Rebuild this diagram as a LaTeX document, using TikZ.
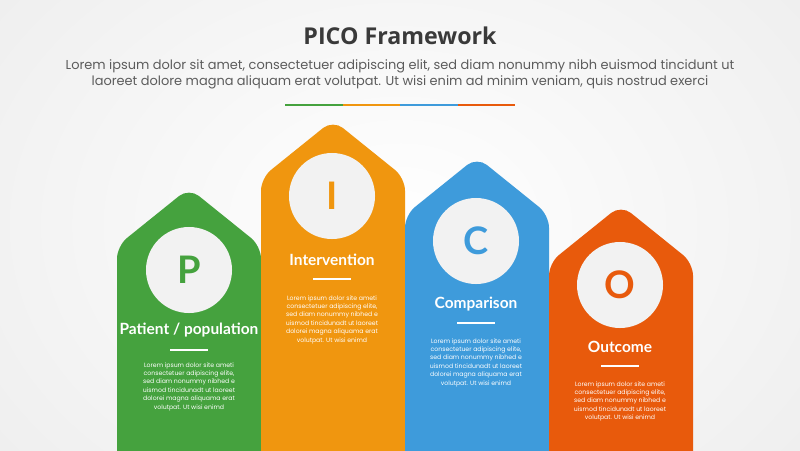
\documentclass[tikz,border=0pt]{standalone}
\usepackage{fontspec}
\setmainfont{Poppins}
\newfontfamily\headfont{Lato}
\newfontfamily\titlefont{Open Sans}

\definecolor{bgwash}{HTML}{EFEFEF}
\definecolor{titlegray}{HTML}{3A3A3A}
\definecolor{subgray}{HTML}{5C5C5C}
\definecolor{discgray}{HTML}{F2F2F2}
\definecolor{picogreen}{HTML}{45A23E}
\definecolor{picoorange}{HTML}{F0960F}
\definecolor{picoblue}{HTML}{3E9BDB}
\definecolor{picored}{HTML}{E85A0C}

\tikzset{
    column/.style={rounded corners=9pt},
    titletxt/.style={text=titlegray, inner sep=0pt, font=\titlefont\bfseries\fontsize{16.5}{18}\selectfont},
    subtxt/.style={text=subgray, align=center, inner sep=0pt, font=\fontsize{9.2}{11.4}\selectfont},
    segment/.style={line width=2pt},
    disc/.style={circle, fill=discgray, minimum size=2.15cm, inner sep=0pt, font=\headfont\bfseries\fontsize{27}{27}\selectfont},
    headtxt/.style={text=white, inner sep=0pt, font=\headfont\bfseries\fontsize{11}{12}\selectfont},
    underbar/.style={fill=white, minimum width=0.95cm, minimum height=2pt, inner sep=0pt},
    bodytxt/.style={text=white, align=center, anchor=north, inner sep=0pt, font=\fontsize{4.4}{6}\selectfont}
}

\begin{document}
\begin{tikzpicture}[x=0.025cm, y=-0.025cm]
    \useasboundingbox (0,0) rectangle (800,450);
    \shade[inner color=white, outer color=bgwash] (-100,-150) rectangle (900,600);
    \clip (0,0) rectangle (800,450);

    \node[titletxt] (title) at (400,36) {PICO Framework};
    \node[subtxt] (intro) at (400,74) {Lorem ipsum dolor sit amet, consectetuer adipiscing elit, sed diam nonummy nibh euismod tincidunt ut\\laoreet dolore magna aliquam erat volutpat. Ut wisi enim ad minim veniam, quis nostrud exerci};

    \coordinate (bar0) at (285,105);
    \coordinate (bar1) at (343,105);
    \coordinate (bar2) at (400,105);
    \coordinate (bar3) at (458,105);
    \coordinate (bar4) at (515,105);
    \draw[segment, picogreen] (bar0) -- (bar1);
    \draw[segment, picoorange] (bar1) -- (bar2);
    \draw[segment, picoblue] (bar2) -- (bar3);
    \draw[segment, picored] (bar3) -- (bar4);

    \fill[column, picogreen] (117,470) -- (117,246) -- (189,188) -- (261,246) -- (261,470) -- cycle;
    \fill[column, picoorange] (261,470) -- (261,178) -- (333,120) -- (405,178) -- (405,470) -- cycle;
    \fill[column, picoblue] (405,470) -- (405,215) -- (477,157) -- (549,215) -- (549,470) -- cycle;
    \fill[column, picored] (549,470) -- (549,263) -- (621,205) -- (693,263) -- (693,470) -- cycle;

    \node[disc, text=picogreen] (pdisc) at (189,270) {P};
    \node[headtxt] (ptitle) at (189,330) {Patient / population};
    \node[underbar] (pbar) at (189,350) {};
    \node[bodytxt] (pbody) at (189,362) {Lorem ipsum dolor site ameti\\consectetuer adipiscing elite,\\sed diam nonummy nibhed e\\uismod tincidunadt ut laoreet\\dolorei magna aliquama erat\\volutpat. Ut wisi enimd};

    \node[disc, text=picoorange] (idisc) at (332,196) {I};
    \node[headtxt] (ititle) at (332,260) {Intervention};
    \node[underbar] (ibar) at (332,279) {};
    \node[bodytxt] (ibody) at (332,295) {Lorem ipsum dolor site ameti\\consectetuer adipiscing elite,\\sed diam nonummy nibhed e\\uismod tincidunadt ut laoreet\\dolorei magna aliquama erat\\volutpat. Ut wisi enimd};

    \node[disc, text=picoblue] (cdisc) at (476,241) {C};
    \node[headtxt] (ctitle) at (476,304) {Comparison};
    \node[underbar] (cbar) at (476,323) {};
    \node[bodytxt] (cbody) at (476,338) {Lorem ipsum dolor site ameti\\consectetuer adipiscing elite,\\sed diam nonummy nibhed e\\uismod tincidunadt ut laoreet\\dolorei magna aliquama erat\\volutpat. Ut wisi enimd};

    \node[disc, text=picored] (odisc) at (620,285) {O};
    \node[headtxt] (otitle) at (620,347) {Outcome};
    \node[underbar] (obar) at (620,366) {};
    \node[bodytxt] (obody) at (620,381) {Lorem ipsum dolor site ameti\\consectetuer adipiscing elite,\\sed diam nonummy nibhed e\\uismod tincidunadt ut laoreet\\volutpat. Ut wisi enimd};
\end{tikzpicture}
\end{document}
